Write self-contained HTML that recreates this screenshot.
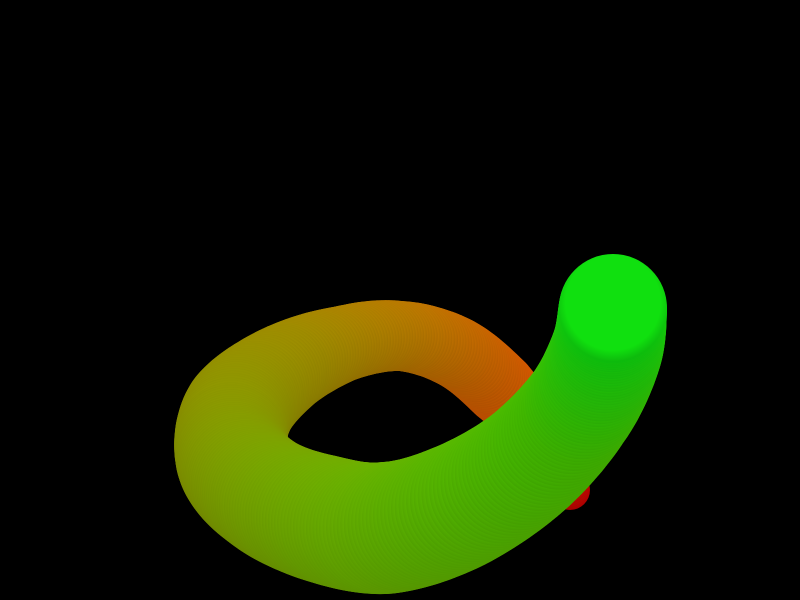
<!DOCTYPE html>
<html><head><meta charset="utf-8"><style>
html,body{margin:0;padding:0;background:#000;width:800px;height:600px;overflow:hidden}
</style></head><body>
<svg id="scene" width="800" height="600" viewBox="0 0 800 600" xmlns="http://www.w3.org/2000/svg">
<rect width="800" height="600" fill="#000"/>
<defs id="defs"></defs>
<g id="tube"></g>
</svg>
<script>
// centerline control points from red end to green end
const pathX = [570,540,500,455,400,342,283,238,234,266,320,385,455,525,578,606,613];
const pathY = [490,435,388,352,336,344,370,412,460,495,518,528,508,465,408,352,308];
const radii = [20,30,36,36,35,38,46,55,58,60,64,66,64,60,57,56,54];
// colors along the tube (parameter 0..1)
const colorStops = [0,0.125,0.25,0.375,0.5,0.69,0.875,1];
const colorVals = [[200,0,0],[220,90,0],[190,120,0],[160,140,0],[138,154,0],[108,180,0],[70,200,0],[15,225,15]];

function cr(p0,p1,p2,p3,t){return 0.5*((2*p1)+(-p0+p2)*t+(2*p0-5*p1+4*p2-p3)*t*t+(-p0+3*p1-3*p2+p3)*t*t*t);}
function colAt(u){
  for(let i=0;i<colorStops.length-1;i++){
    if(u<=colorStops[i+1]){const f=(u-colorStops[i])/(colorStops[i+1]-colorStops[i]);
      return colorVals[i].map((c,k)=>Math.round(c+(colorVals[i+1][k]-c)*f));}
  }
  return colorVals[colorVals.length-1];
}
const ns="http://www.w3.org/2000/svg";
const g=document.getElementById('tube'), defs=document.getElementById('defs');
const n=pathX.length, steps=20;
let idx=0; const total=(n-1)*steps;
for(let i=0;i<n-1;i++){
  const a=Math.max(i-1,0), b=i, c=i+1, d=Math.min(i+2,n-1);
  for(let s=0;s<steps;s++){
    const t=s/steps;
    const x=cr(pathX[a],pathX[b],pathX[c],pathX[d],t);
    const y=cr(pathY[a],pathY[b],pathY[c],pathY[d],t);
    const r=radii[b]+(radii[c]-radii[b])*t;
    const col=colAt(idx/total);
    const gid='gr'+idx;
    const gr=document.createElementNS(ns,'radialGradient');
    gr.setAttribute('id',gid);gr.setAttribute('cx','0.5');gr.setAttribute('cy','0.45');gr.setAttribute('r','0.55');
    const s1=document.createElementNS(ns,'stop');s1.setAttribute('offset','0');
    s1.setAttribute('stop-color','rgb('+col.join(',')+')');
    const s2=document.createElementNS(ns,'stop');s2.setAttribute('offset','0.8');
    s2.setAttribute('stop-color','rgb('+col.join(',')+')');
    const s3=document.createElementNS(ns,'stop');s3.setAttribute('offset','1');
    s3.setAttribute('stop-color','rgb('+col.map(v=>Math.round(v*0.82)).join(',')+')');
    gr.appendChild(s1);gr.appendChild(s2);gr.appendChild(s3);defs.appendChild(gr);
    const ci=document.createElementNS(ns,'circle');
    ci.setAttribute('cx',x.toFixed(1));ci.setAttribute('cy',y.toFixed(1));ci.setAttribute('r',r.toFixed(1));
    ci.setAttribute('fill','url(#'+gid+')');
    
    
    g.appendChild(ci);
    idx++;
  }
}
const last=document.createElementNS(ns,'circle');
last.setAttribute('cx',pathX[n-1]);last.setAttribute('cy',pathY[n-1]);last.setAttribute('r',radii[n-1]);
last.setAttribute('fill','url(#gr'+(idx-1)+')');


g.appendChild(last);
</script>
</body></html>
